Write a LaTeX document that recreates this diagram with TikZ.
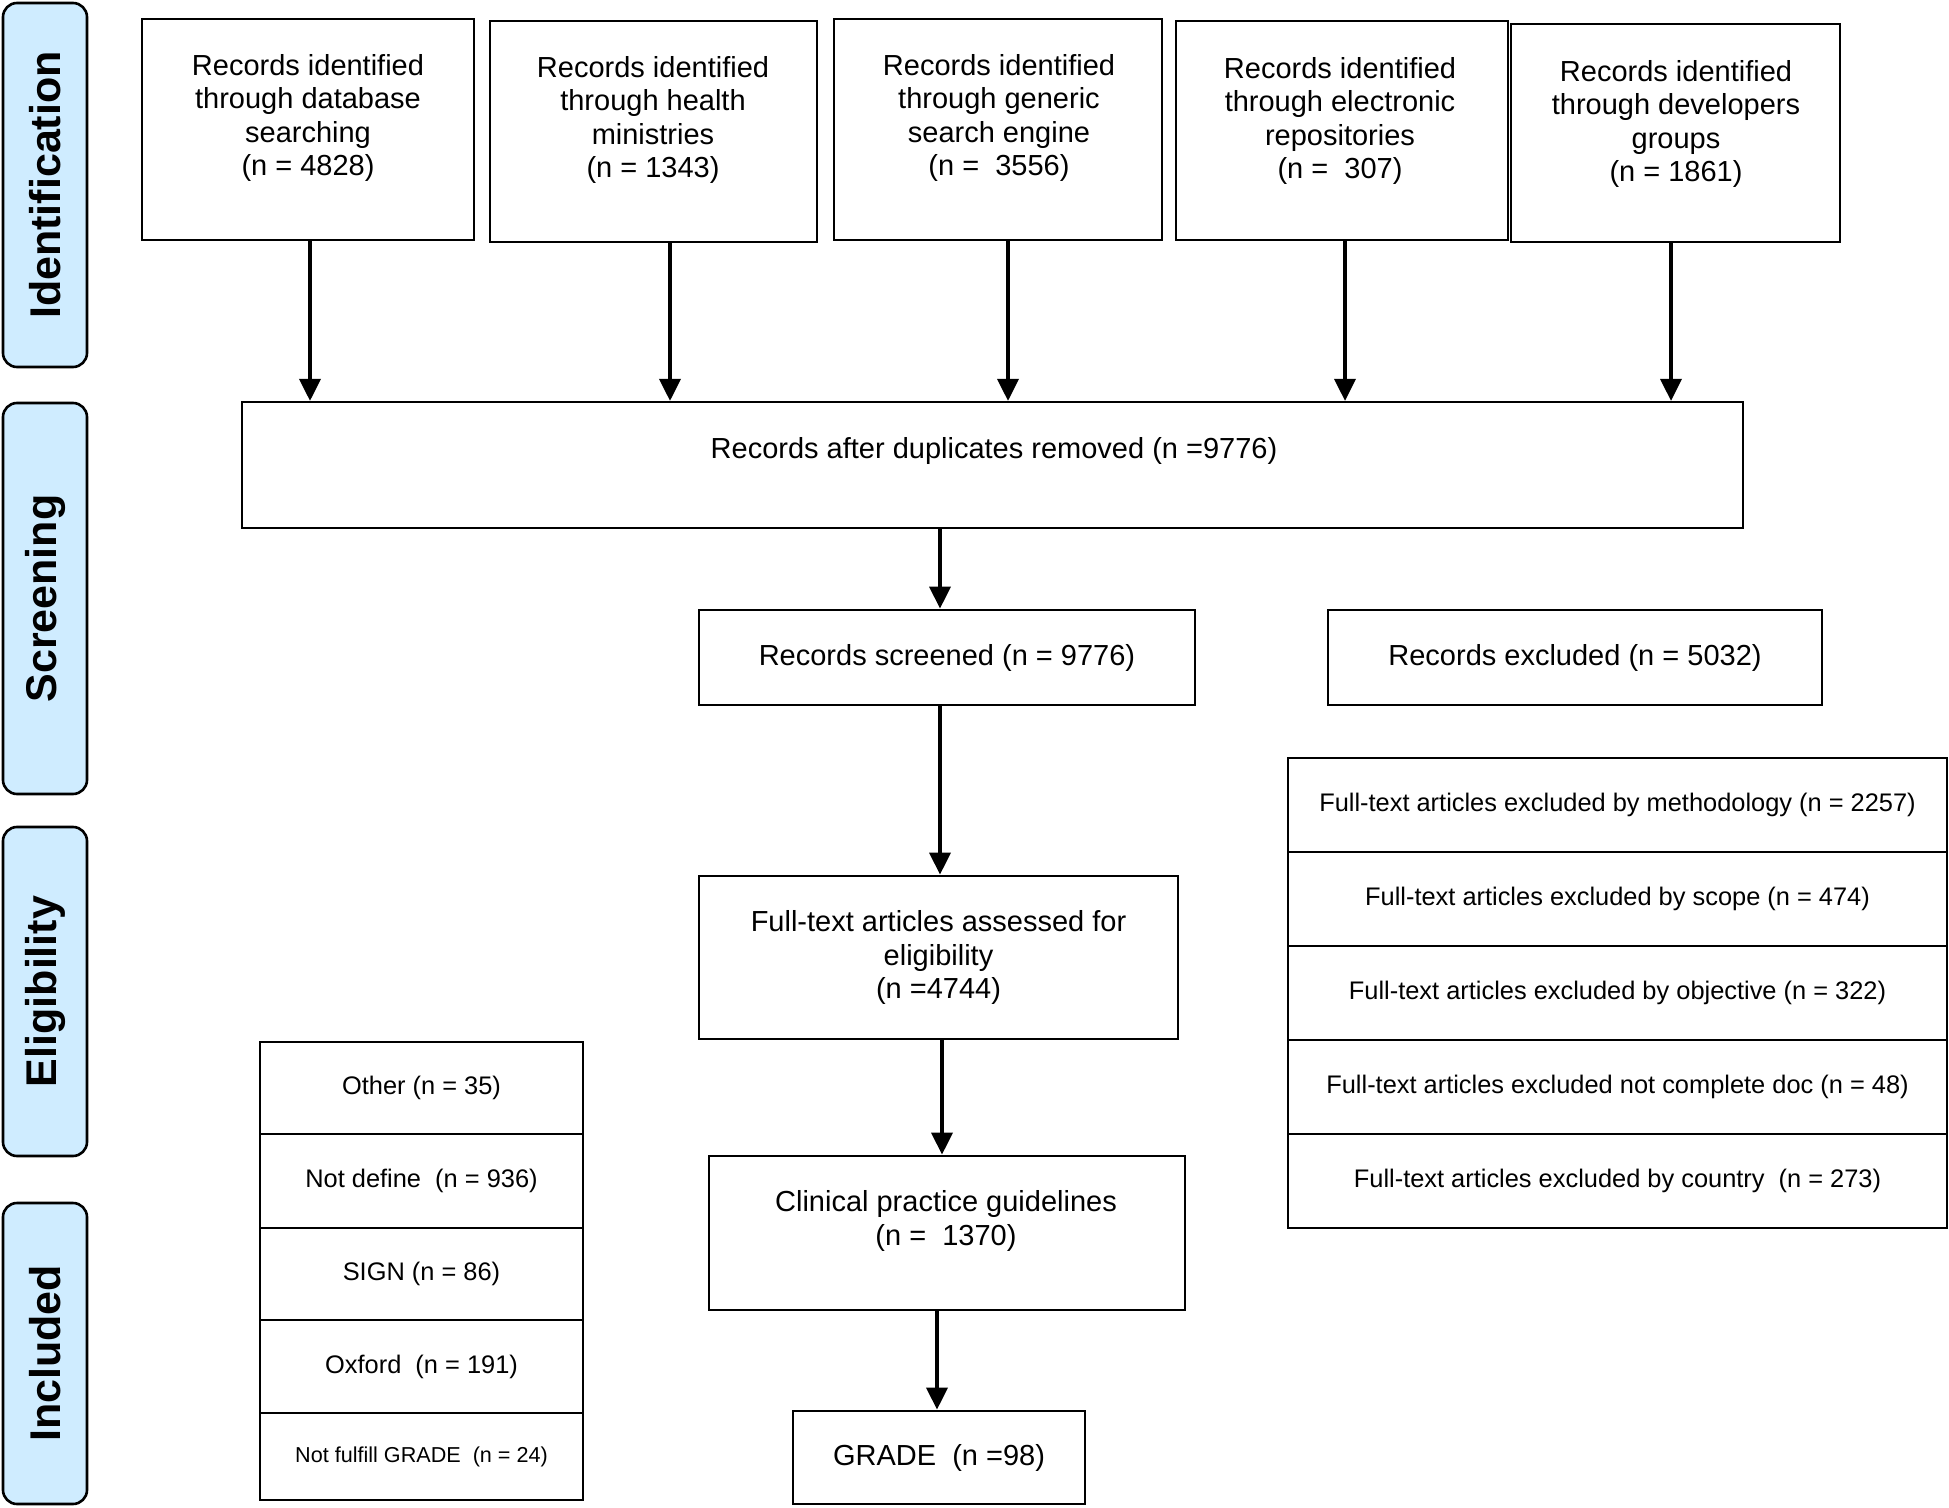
\documentclass[tikz,border=0pt]{standalone}
\usepackage{fontspec}
\setmainfont{Liberation Sans}
\usetikzlibrary{arrows.meta}
\definecolor{sidefill}{RGB}{207,236,255}
\begin{document}
\begin{tikzpicture}[x=0.5pt,y=-0.5pt,
  box/.style={draw, line width=1.4pt, rectangle, inner sep=0pt, align=center},
  thinbox/.style={box, line width=1.1pt},
  side/.style={draw, line width=1.3pt, fill=sidefill, rounded corners=7pt, inner sep=0pt, minimum width=42pt},
  sidetxt/.style={rotate=90, inner sep=0pt, font=\fontsize{21.5}{24}\selectfont\bfseries},
  txt/.style={align=center, inner sep=0pt, font=\fontsize{14.5}{16.75}\selectfont},
  rowtxt/.style={font=\fontsize{12.7}{15}\selectfont},
  smalltxt/.style={font=\fontsize{10.8}{13}\selectfont},
  arr/.style={line width=1.8pt, -{Triangle[width=10.5pt,length=11pt]}}]
\useasboundingbox (0,0) rectangle (1949,1508);

% sidebars
\node[side, minimum height=182pt] (s1) at (45,185) {};
\node[sidetxt] (s1t) at (s1.center) {Identification};
\node[side, minimum height=195.5pt] (s2) at (45,598.5) {};
\node[sidetxt] (s2t) at (s2.center) {Screening};
\node[side, minimum height=164.5pt] (s3) at (45,991.5) {};
\node[sidetxt] (s3t) at (s3.center) {Eligibility};
\node[side, minimum height=150.5pt] (s4) at (45,1353.5) {};
\node[sidetxt] (s4t) at (s4.center) {Included};

% top boxes
\node[box, minimum width=166pt, minimum height=110.5pt] (b1) at (308,129.5) {};
\node[txt] (b1t) at (308,118) {Records identified\\through database\\searching\\(n = 4828)};
\node[box, minimum width=163.5pt, minimum height=110.5pt] (b2) at (653.5,131.5) {};
\node[txt] (b2t) at (653,120) {Records identified\\through health\\ministries\\(n = 1343)};
\node[box, minimum width=164pt, minimum height=110.5pt] (b3) at (998,129.5) {};
\node[txt] (b3t) at (999,118) {Records identified\\through generic\\search engine\\(n =~ 3556)};
\node[box, minimum width=166pt, minimum height=109.5pt] (b4) at (1342,130.5) {};
\node[txt] (b4t) at (1340,121) {Records identified\\through electronic\\repositories\\(n =~ 307)};
\node[box, minimum width=164.5pt, minimum height=109pt] (b5) at (1675.5,133) {};
\node[txt] (b5t) at (1676,124) {Records identified\\through developers\\groups\\(n = 1861)};

% duplicates
\node[thinbox, minimum width=750.5pt, minimum height=63pt] (dup) at (992.5,465) {};
\node[txt] (dupt) at (994,451) {Records after duplicates removed (n =9776)};

% screened / excluded
\node[box, txt, minimum width=248pt, minimum height=47.5pt] (scr) at (947,657.5) {Records screened (n = 9776)};
\node[box, txt, minimum width=247pt, minimum height=47.5pt] (exc) at (1575,657.5) {Records excluded (n = 5032)};

% right table
\node[box, rowtxt, minimum width=329.5pt, minimum height=47pt] (r1) at (1617.5,805) {Full-text articles excluded by methodology (n = 2257)};
\node[box, rowtxt, minimum width=329.5pt, minimum height=47pt] (r2) at (1617.5,899) {Full-text articles excluded by scope (n = 474)};
\node[box, rowtxt, minimum width=329.5pt, minimum height=47pt] (r3) at (1617.5,993) {Full-text articles excluded by objective (n = 322)};
\node[box, rowtxt, minimum width=329.5pt, minimum height=47pt] (r4) at (1617.5,1087) {Full-text articles excluded not complete doc (n = 48)};
\node[box, rowtxt, minimum width=329.5pt, minimum height=47pt] (r5) at (1617.5,1181) {Full-text articles excluded by country~ (n = 273)};

% central column
\node[box, txt, minimum width=239.5pt, minimum height=81.5pt] (ft) at (938.5,957.5) {Full-text articles assessed for\\eligibility\\(n =4744)};
\node[box, minimum width=238pt, minimum height=77pt] (cpg) at (947,1233) {};
\node[txt] (cpgt) at (946,1221) {Clinical practice guidelines\\(n =~ 1370)};
\node[box, txt, minimum width=146pt, minimum height=46.5pt] (grade) at (939,1457.5) {GRADE~ (n =98)};

% left table
\node[box, rowtxt, minimum width=161.5pt, minimum height=46pt] (l1) at (421.5,1088) {Other (n = 35)};
\node[box, rowtxt, minimum width=161.5pt, minimum height=47pt] (l2) at (421.5,1181) {Not define~ (n = 936)};
\node[box, rowtxt, minimum width=161.5pt, minimum height=46pt] (l3) at (421.5,1274) {SIGN (n = 86)};
\node[box, rowtxt, minimum width=161.5pt, minimum height=46.5pt] (l4) at (421.5,1366.5) {Oxford~ (n = 191)};
\node[box, smalltxt, minimum width=161.5pt, minimum height=43.5pt] (l5) at (421.5,1456.5) {Not fulfill GRADE~ (n = 24)};

% arrows
\coordinate (a1) at ([xshift=1pt]b1.south);
\coordinate (a2) at ([xshift=8.25pt]b2.south);
\coordinate (a3) at ([xshift=5pt]b3.south);
\coordinate (a4) at ([xshift=1.5pt]b4.south);
\coordinate (a5) at ([xshift=-2.25pt]b5.south);
\draw[arr] (a1) -- (a1 |- dup.north);
\draw[arr] (a2) -- (a2 |- dup.north);
\draw[arr] (a3) -- (a3 |- dup.north);
\draw[arr] (a4) -- (a4 |- dup.north);
\draw[arr] (a5) -- (a5 |- dup.north);
\coordinate (a6) at ([xshift=-3.5pt]scr.north);
\draw[arr] (a6 |- dup.south) -- (a6);
\coordinate (a7) at ([xshift=0.75pt]ft.north);
\draw[arr] (a7 |- scr.south) -- (a7);
\coordinate (a8) at ([xshift=1.75pt]ft.south);
\draw[arr] (a8) -- (a8 |- cpg.north);
\coordinate (a9) at ([xshift=-1pt]grade.north);
\draw[arr] (a9 |- cpg.south) -- (a9);
\end{tikzpicture}
\end{document}
